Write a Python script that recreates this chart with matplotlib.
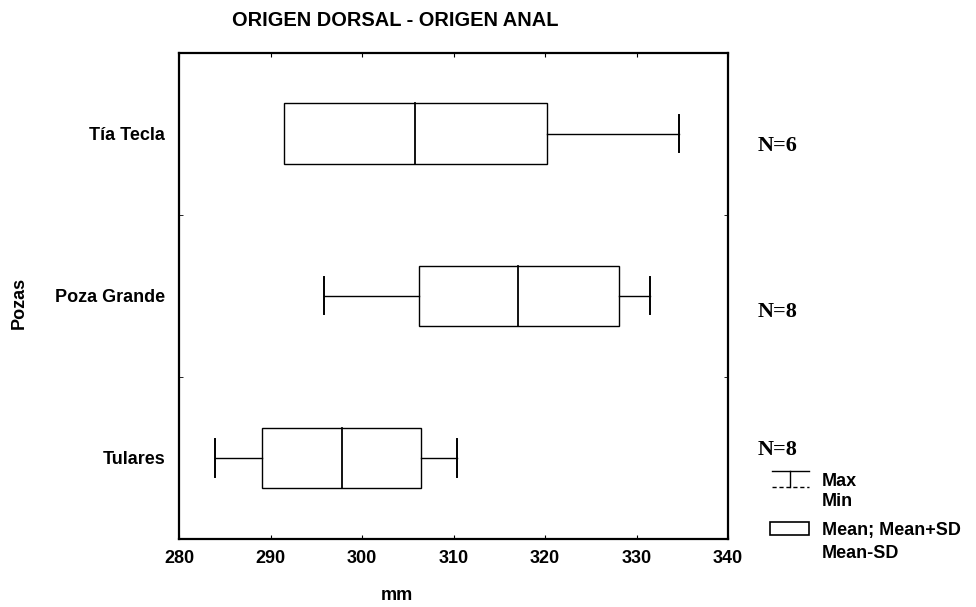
import matplotlib
matplotlib.use("Agg")
import matplotlib.pyplot as plt
from matplotlib.patches import Rectangle

# Datos (mm)
pozas = ["Tía Tecla", "Poza Grande", "Tulares"]
media = [305.8, 317.1, 297.8]
media_mas_sd = [320.2, 328.1, 306.5]
media_menos_sd = [291.5, 306.2, 289.1]
maximo = [334.6, 331.5, 310.4]
minimo = [292.0, 295.9, 283.9]
n_textos = ["N=6", "N=8", "N=8"]

plt.rcParams["font.family"] = ["Liberation Sans", "DejaVu Sans"]
fs = 13

fig = plt.figure(figsize=(9.76, 6.07), dpi=100)
ax = fig.add_axes([179 / 976, 68 / 607, 549 / 976, 486.5 / 607])

alto_caja = 0.372
alto_cap = 0.23
posiciones = [2.5, 1.5, 0.5]
# desplazamiento vertical (px) de los textos N=
desp_n = [-12, -16, 8]

for i, y in enumerate(posiciones):
    # caja Mean-SD .. Mean+SD
    ax.add_patch(Rectangle((media_menos_sd[i], y - alto_caja / 2),
                           media_mas_sd[i] - media_menos_sd[i], alto_caja,
                           fill=False, edgecolor="black", linewidth=1.0))
    ax.plot([media[i], media[i]], [y - alto_caja / 2, y + alto_caja / 2], color="black", linewidth=1.3)
    # bigotes
    if minimo[i] < media_menos_sd[i]:
        ax.plot([minimo[i], media_menos_sd[i]], [y, y], color="black", linewidth=1.0)
        ax.plot([minimo[i], minimo[i]], [y - alto_cap / 2, y + alto_cap / 2], color="black", linewidth=1.4)
    if maximo[i] > media_mas_sd[i]:
        ax.plot([media_mas_sd[i], maximo[i]], [y, y], color="black", linewidth=1.0)
        ax.plot([maximo[i], maximo[i]], [y - alto_cap / 2, y + alto_cap / 2], color="black", linewidth=1.4)
    ax.annotate(n_textos[i], xy=(1.0, y), xycoords=ax.get_yaxis_transform(),
                xytext=(21.5, desp_n[i] * 0.72), textcoords="offset points",
                family="Liberation Serif", fontweight="bold", fontsize=16, va="center", ha="left")

ax.set_xlim(280, 340)
ax.set_ylim(0, 3)
ax.set_xticks(range(280, 341, 10))
ax.set_yticks(posiciones)
ax.set_yticklabels(pozas, fontsize=fs, fontweight="bold")
ax.set_yticks([1, 2], minor=True)
for lbl in ax.get_xticklabels():
    lbl.set_fontsize(fs)
    lbl.set_fontweight("bold")
ax.tick_params(axis="y", which="major", length=0, pad=10)
ax.tick_params(axis="y", which="minor", direction="in", length=3, left=True, right=True)
ax.tick_params(axis="x", direction="in", length=3, top=True, bottom=True, pad=8)
for s in ax.spines.values():
    s.set_linewidth(1.6)

fig.text(397 / 976, 1 - 595 / 607, "mm", fontsize=fs, fontweight="bold", ha="center", va="center")
fig.text(19 / 976, 1 - 303 / 607, "Pozas", rotation=90, fontsize=fs, fontweight="bold", ha="center", va="center")
fig.text(395 / 976, 1 - 20 / 607, "ORIGEN DORSAL - ORIGEN ANAL", fontsize=14.4, fontweight="bold", ha="center", va="center")

# leyenda dibujada a mano (coordenadas en pixeles de la figura)
lg = fig.add_axes([740 / 976, 7 / 607, 236 / 976, 180 / 607])
lg.set_xlim(740, 976)
lg.set_ylim(600, 420)
lg.axis("off")
lg.plot([772, 809], [471, 471], color="black", linewidth=1.0)
lg.plot([772, 809], [487, 487], color="black", linewidth=1.0, linestyle=(0, (3, 2)))
lg.plot([790, 790], [471, 487], color="black", linewidth=1.0)
lg.add_patch(Rectangle((770, 522), 39, 13, fill=False, edgecolor="black", linewidth=1.2))
lg.text(822, 481, "Max", fontsize=fs, fontweight="bold", va="center")
lg.text(822, 502, "Min", fontsize=fs, fontweight="bold", va="center")
lg.text(822, 530, "Mean; Mean+SD", fontsize=fs, fontweight="bold", va="center")
lg.text(822, 553, "Mean-SD", fontsize=fs, fontweight="bold", va="center")

fig.savefig("out.png", dpi=100)
